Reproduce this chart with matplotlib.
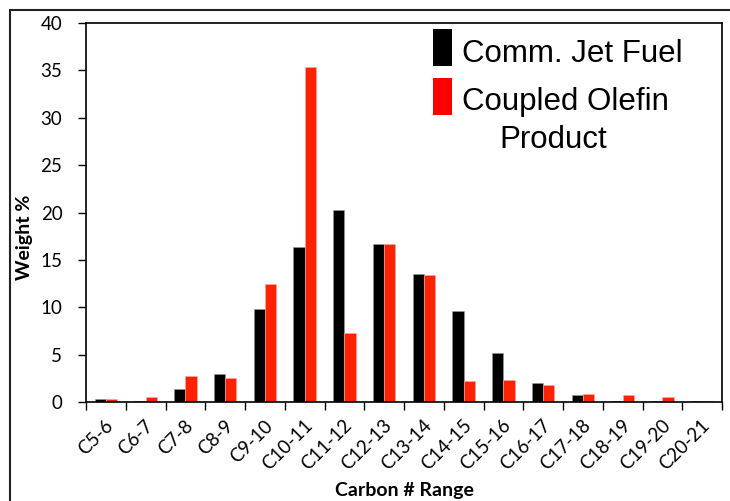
import numpy as np
import matplotlib
matplotlib.use("Agg")
import matplotlib.pyplot as plt
from matplotlib.patches import Rectangle
from matplotlib.transforms import ScaledTranslation

# carbon number ranges and weight % for each sample
ranges = ['C5-6', 'C6-7', 'C7-8', 'C8-9', 'C9-10', 'C10-11', 'C11-12', 'C12-13',
          'C13-14', 'C14-15', 'C15-16', 'C16-17', 'C17-18', 'C18-19', 'C19-20', 'C20-21']
jet_fuel = [0.3, 0.1, 1.4, 3.0, 9.8, 16.4, 20.3, 16.7, 13.5, 9.6, 5.2, 2.0, 0.7, 0.1, 0.1, 0.1]
olefin = [0.3, 0.5, 2.7, 2.5, 12.5, 35.4, 7.3, 16.7, 13.4, 2.2, 2.3, 1.8, 0.8, 0.75, 0.5, 0.1]
yticks = [0, 5, 10, 15, 20, 25, 30, 35, 40]

tick_font = 'Lato'
leg_font = 'Liberation Sans'
red = '#ff2200'

W, H = 730, 501
fig = plt.figure(figsize=(W / 100, H / 100), dpi=100)
ax = fig.add_axes([86 / W, 1 - 402 / H, (722 - 86) / W, (402 - 23) / H])

x = np.arange(len(ranges))
bw = 0.28
ax.bar(x - bw / 2, jet_fuel, bw, color='black', edgecolor='#999999', linewidth=0.4)
ax.bar(x + bw / 2, olefin, bw, color=red, edgecolor='#ffaaaa', linewidth=0.4)

ax.set_xlim(-0.5, len(ranges) - 0.5)
ax.set_ylim(0, 40)
ax.set_yticks(yticks)
ax.set_yticklabels([str(v) for v in yticks], fontfamily=tick_font, fontsize=13.5)
ax.tick_params(axis='y', length=6, width=1, pad=11)

ax.set_xticks(x)
ax.set_xticklabels(ranges, rotation=45, ha='right', va='center',
                   rotation_mode='anchor', fontfamily=tick_font, fontsize=13.5)
ax.set_xticks(np.arange(len(ranges) + 1) - 0.5, minor=True)
ax.tick_params(axis='x', which='major', length=0, pad=15)
ax.tick_params(axis='x', which='minor', length=6, width=1)
off = ScaledTranslation(5 / 100, 0, fig.dpi_scale_trans)
for lab in ax.get_xticklabels():
    lab.set_transform(lab.get_transform() + off)

for s in ax.spines.values():
    s.set_linewidth(1.2)

ax.set_xlabel('Carbon # Range', fontfamily=tick_font, fontweight='bold', fontsize=14)
ax.xaxis.set_label_coords(0.5, -0.21)
ax.set_ylabel('Weight %', fontfamily=tick_font, fontweight='bold', fontsize=14)
ax.yaxis.set_label_coords(-0.0833, 0.435)

# legend drawn by hand: swatch aligned with the first text line
fig.patches.append(Rectangle((433 / W, 1 - 66 / H), 19 / W, 37 / H, transform=fig.transFigure,
                             facecolor='black', edgecolor='none'))
fig.patches.append(Rectangle((433 / W, 1 - 115 / H), 19 / W, 37 / H, transform=fig.transFigure,
                             facecolor='red', edgecolor='none'))
fig.text(462 / W, 1 - 62 / H, 'Comm. Jet Fuel', fontfamily=leg_font, fontsize=22.5, va='baseline')
fig.text(462 / W, 1 - 110 / H, 'Coupled Olefin', fontfamily=leg_font, fontsize=22.5, va='baseline')
fig.text(499 / W, 1 - 148 / H, 'Product', fontfamily=leg_font, fontsize=22.5, va='baseline')

# outer chart frame
fig.patches.append(Rectangle((10 / W, -0.1), 1.0, 1.1 - 10 / H, transform=fig.transFigure,
                             fill=False, edgecolor='#222222', linewidth=1.5))

fig.savefig('out.png', dpi=100)
